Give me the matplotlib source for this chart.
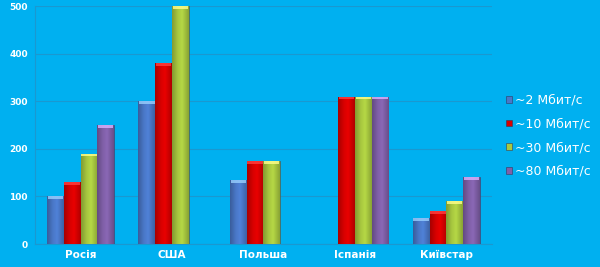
import matplotlib.pyplot as plt
import matplotlib.colors as mcolors
import numpy as np

categories = ["Росія", "США", "Польша", "Іспанія", "Київстар"]
series = ["~2 Мбит/с", "~10 Мбит/с", "~30 Мбит/с", "~80 Мбит/с"]
v2 = [100, 300, 135, None, 55]
v10 = [130, 380, 175, 310, 70]
v30 = [190, 500, 175, 310, 90]
v80 = [250, None, None, 310, 140]
values = [v2, v10, v30, v80]
colors = ["#4a78c8", "#d80000", "#a8c840", "#8060a8"]
bg = "#00b0f0"

fig = plt.figure(figsize=(6, 2.67), dpi=100, facecolor=bg)
ax = fig.add_axes([0.058, 0.086, 0.762, 0.891])
ax.set_facecolor(bg)

x = np.arange(len(categories))
w = 0.183
ramp_x = np.linspace(0, 1, 32)
ramp = np.interp(ramp_x, [0, 0.35, 0.6, 1], [0.78, 1.0, 1.08, 0.82])
for i, (vals, c) in enumerate(zip(values, colors)):
    h = [v if v is not None else 0 for v in vals]
    bars = ax.bar(x + (i - 1.5) * w, h, w, color=c, label=series[i],
                  edgecolor=mcolors.to_rgba("#303050", 0.6), linewidth=0.6, zorder=3)
    base = np.array(mcolors.to_rgb(c))
    img = np.clip(base[None, :] * ramp[:, None], 0, 1)[None, :, :]
    cap = np.clip(base * 1.2 + 0.25, 0, 1)
    for b, v in zip(bars, vals):
        if v is None:
            b.set_visible(False)
            continue
        bx, bw, bh = b.get_x(), b.get_width(), b.get_height()
        im = ax.imshow(img, extent=(bx, bx + bw, 0, bh), aspect="auto", zorder=3.5)
        im.set_clip_path(b)
        ax.bar(bx + bw / 2, 6, bw * 0.92, bottom=bh - 6, color=cap, alpha=0.8,
               linewidth=0, zorder=4)

ax.set_xlim(-0.5, 4.5)
ax.set_ylim(0, 500)
ax.set_yticks([0, 100, 200, 300, 400, 500])
ax.set_xticks(x)
ax.set_xticklabels(categories)
ax.tick_params(axis="both", length=0, colors="white")
for t in ax.get_yticklabels():
    t.set_fontsize(6.5)
    t.set_fontweight("bold")
for t in ax.get_xticklabels():
    t.set_fontsize(7.5)
    t.set_fontweight("bold")
ax.tick_params(axis="y", pad=5)
ax.tick_params(axis="x", pad=4)
ax.grid(axis="y", color="#1a98d0", linewidth=0.8, zorder=0)
for s in ["top", "right"]:
    ax.spines[s].set_visible(False)
for s in ["left", "bottom"]:
    ax.spines[s].set_color("#1a98d0")
    ax.spines[s].set_linewidth(0.8)

leg = ax.legend(loc="center left", bbox_to_anchor=(1.02, 0.455), frameon=False,
                fontsize=9, labelcolor="white", handlelength=0.45, handleheight=0.45,
                handletextpad=0.25, labelspacing=0.85, borderaxespad=0)

fig.savefig("out.png", dpi=100, facecolor=bg)
